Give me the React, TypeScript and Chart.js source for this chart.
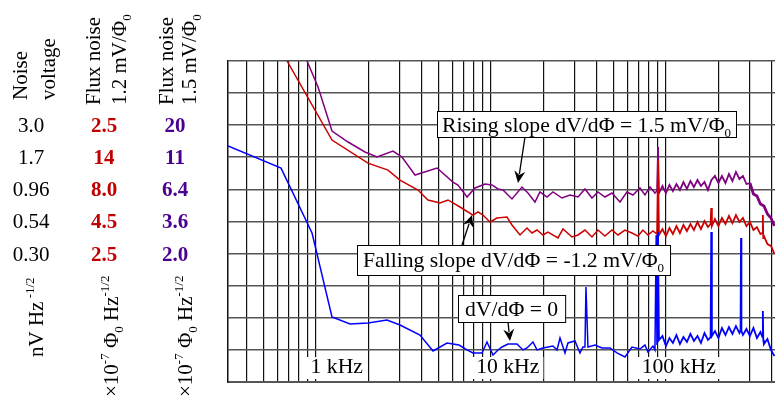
import React, { useEffect, useRef } from 'react';
import { Chart, registerables } from 'chart.js';
Chart.register(...registerables);

// ---------- DATA (frequency in Hz, noise in nV/Hz^1/2) ----------
const blueFreq = [
  314, 631, 949, 1234, 1564, 1982, 2545, 3020, 3929, 4664,
  5605, 6565, 7293, 7891, 8884, 9488, 10270, 10970, 11560, 12510,
  14080, 15230, 16060, 17380, 18320, 19820, 22610, 23840, 24800, 26480,
  27540, 30200, 32250, 33550, 34450, 34900, 35830, 39290, 43080, 47860,
  52480, 58310, 63930, 71030, 75860, 78910, 84280, 86520, 87960, 88830,
  90010, 91200, 95500, 100000, 104700, 109600, 114800, 120200, 125900, 131800,
  138000, 144500, 151400, 158500, 166000, 173800, 180000, 181500, 183000, 190500,
  199500, 208900, 218800, 229100, 239900, 251200, 263000, 267000, 268500, 270000,
  275400, 288400, 302000, 316200, 331100, 346700, 356000, 358000, 360000, 363100,
  380200, 398100, 416900,
];
const blueNoise = [
  2.07, 1.39, 0.434, 0.0962, 0.0849, 0.0864, 0.0912, 0.0834, 0.0697, 0.0523,
  0.0604, 0.0582, 0.0533, 0.0505, 0.0505, 0.0615, 0.0487, 0.0533, 0.0562, 0.0593,
  0.0593, 0.0533, 0.0552, 0.0615, 0.0533, 0.0552, 0.0572, 0.0533, 0.066, 0.0505,
  0.0604, 0.0626, 0.0505, 0.0562, 0.0562, 0.165, 0.0562, 0.0582, 0.0552, 0.0552,
  0.0505, 0.047, 0.0562, 0.0542, 0.0582, 0.0514, 0.0572, 0.0533, 0.419, 0.0582,
  0.442, 0.0637, 0.0685, 0.0572, 0.066, 0.0604, 0.0697, 0.0593, 0.0672, 0.0615,
  0.071, 0.0626, 0.0685, 0.0604, 0.0722, 0.0637, 0.0672, 0.442, 0.0685, 0.0749,
  0.066, 0.079, 0.0697, 0.0804, 0.071, 0.0819, 0.0722, 0.0763, 0.397, 0.0749,
  0.0697, 0.0776, 0.0685, 0.079, 0.066, 0.0735, 0.0672, 0.107, 0.0637, 0.0593,
  0.0649, 0.0533, 0.0478,
];

const redFreq = [
  683, 1234, 1982, 2579, 3020, 3827, 4365, 5112, 5679, 6651,
  7891, 8428, 9001, 9869, 10820, 12340, 13180, 14650, 16060, 17150,
  18320, 19820, 21170, 24150, 25790, 29030, 31420, 34450, 37770, 40870,
  44820, 49140, 53180, 58310, 63930, 69180, 73890, 78910, 84280, 88830,
  90010, 91200, 95500, 100000, 104700, 109600, 114800, 120200, 125900, 131800,
  138000, 144500, 151400, 158500, 166000, 173800, 180000, 181500, 183000, 190500,
  199500, 208900, 218800, 229100, 239900, 251200, 263000, 275400, 288400, 302000,
  316200, 331100, 346700, 356000, 358000, 360000, 363100, 380200, 398100, 416900,
];
const redNoise = [
  9.49, 2.3, 1.52, 1.34, 1.12, 0.939, 0.785, 0.743, 0.785, 0.692,
  0.599, 0.633, 0.599, 0.529, 0.568, 0.578, 0.501, 0.419, 0.475, 0.434,
  0.458, 0.419, 0.442, 0.397, 0.466, 0.404, 0.419, 0.458, 0.404, 0.458,
  0.411, 0.458, 0.419, 0.458, 0.434, 0.411, 0.458, 0.419, 0.45, 0.426,
  1.61, 0.419, 0.466, 0.411, 0.475, 0.426, 0.492, 0.434, 0.501, 0.45,
  0.51, 0.458, 0.529, 0.466, 0.538, 0.483, 0.51, 0.68, 0.492, 0.558,
  0.492, 0.568, 0.51, 0.589, 0.519, 0.599, 0.529, 0.568, 0.492, 0.529,
  0.458, 0.483, 0.426, 0.434, 0.599, 0.397, 0.411, 0.356, 0.344, 0.298,
];

const purpleFreq = [
  888, 1027, 1234, 1524, 1905, 2231, 2754, 3100, 3679, 4914,
  6065, 6478, 7293, 8102, 9241, 10130, 10970, 11710, 13180, 15040,
  16270, 17840, 19050, 20890, 22610, 25450, 28280, 31420, 34450, 37770,
  40870, 44820, 49140, 54590, 59860, 64780, 71030, 75860, 81020, 86520,
  88830, 90010, 91200, 95500, 100000, 104700, 109600, 114800, 120200, 125900,
  131800, 138000, 144500, 151400, 158500, 166000, 173800, 182000, 190500, 199500,
  208900, 218800, 229100, 239900, 251200, 263000, 275400, 288400, 302000, 316200,
  331100, 346700, 363100, 380200, 398100, 416900,
];
const purpleNoise = [
  9.49, 5.95, 2.7, 2.22, 1.855, 1.696, 1.889, 1.696, 1.228, 1.393,
  1.083, 1.027, 0.828, 0.973, 1.045, 1.027, 0.956, 0.939, 0.799, 0.99,
  0.889, 0.757, 0.906, 0.828, 0.906, 0.813, 0.858, 0.828, 0.956, 0.813,
  0.906, 0.828, 0.889, 0.757, 0.906, 0.858, 0.973, 0.858, 0.99, 0.889,
  0.922, 2.03, 0.889, 1.008, 0.889, 1.027, 0.922, 1.045, 0.939, 1.083,
  0.956, 1.103, 0.99, 1.123, 1.008, 1.083, 0.939, 1.123, 1.207, 1.064,
  1.207, 1.064, 1.251, 1.103, 1.297, 1.143, 1.207, 1.045, 1.064, 0.874,
  0.843, 0.73, 0.705, 0.61, 0.568, 0.492,
];

// grid / tick values
const xGridValues = [
  400, 500, 600, 700, 800, 900, 1000, 2000, 3000, 4000, 5000, 6000, 7000, 8000, 9000,
  10000, 20000, 30000, 40000, 50000, 60000, 70000, 80000, 90000, 100000, 200000, 300000, 400000,
];
const yGridValues = [0.03, 0.0533, 0.0949, 0.169, 0.3, 0.534, 0.949, 1.69, 3.0, 5.34, 9.49];
const freqLabelValues = [1000, 10000, 100000];
const freqLabelTexts = ['1 kHz', '10 kHz', '100 kHz'];

// table at left (rows aligned to noise-voltage gridlines)
const noiseVoltageLabels = ['3.0', '1.7', '0.96', '0.54', '0.30'];
const fluxNoise12Labels = ['2.5', '14', '8.0', '4.5', '2.5'];
const fluxNoise15Labels = ['20', '11', '6.4', '3.6', '2.0'];

// ---------- STYLE ----------
const FONT = '"Liberation Serif", "Times New Roman", Times, serif';
const FS = 21;
const FA = 21.7;
const BLUE = '#0000ff';
const RED = '#cc0000';
const PURPLE = '#800080';
const RED_TXT = '#c00000';
const PURPLE_TXT = '#4a0090';

type Run = { t: string; s?: 'sup' | 'sub' };

function runFont(size: number, bold: boolean, r: Run) {
  const s = r.s ? Math.round(size * 0.62) : size;
  return `${bold ? 'bold ' : ''}${s}px ${FONT}`;
}
function runsWidth(ctx: CanvasRenderingContext2D, runs: Run[], size: number, bold = false) {
  let w = 0;
  for (const r of runs) {
    ctx.font = runFont(size, bold, r);
    w += ctx.measureText(r.t).width;
  }
  return w;
}
function drawRuns(ctx: CanvasRenderingContext2D, runs: Run[], x: number, y: number, size: number, bold = false) {
  let cx = x;
  for (const r of runs) {
    ctx.font = runFont(size, bold, r);
    const dy = r.s === 'sup' ? -size * 0.42 : r.s === 'sub' ? size * 0.24 : 0;
    ctx.fillText(r.t, cx, y + dy);
    cx += ctx.measureText(r.t).width;
  }
}

function arrow(ctx: CanvasRenderingContext2D, x1: number, y1: number, x2: number, y2: number) {
  const ang = Math.atan2(y2 - y1, x2 - x1);
  const hl = 12, hw = 5.5;
  const bx = x2 - hl * Math.cos(ang), by = y2 - hl * Math.sin(ang);
  ctx.beginPath();
  ctx.moveTo(x1, y1);
  ctx.lineTo(bx + 3 * Math.cos(ang), by + 3 * Math.sin(ang));
  ctx.lineWidth = 1.3;
  ctx.strokeStyle = '#000';
  ctx.stroke();
  ctx.beginPath();
  ctx.moveTo(x2, y2);
  ctx.lineTo(bx + hw * Math.sin(ang), by - hw * Math.cos(ang));
  ctx.lineTo(bx + 4 * Math.cos(ang), by + 4 * Math.sin(ang));
  ctx.lineTo(bx - hw * Math.sin(ang), by + hw * Math.cos(ang));
  ctx.closePath();
  ctx.fillStyle = '#000';
  ctx.fill();
}

const annotations = [
  { runs: [{ t: 'Rising slope dV/dΦ = 1.5 mV/Φ' }, { t: '0', s: 'sub' }] as Run[], left: 437, top: 111, h: 26, base: 21, pad: 5, arrow: [525, 137, 518, 183] },
  { runs: [{ t: 'Falling slope dV/dΦ = -1.2 mV/Φ' }, { t: '0', s: 'sub' }] as Run[], left: 357, top: 245, h: 30, base: 22, pad: 6, arrow: [462, 245, 472, 215] },
  { runs: [{ t: 'dV/dΦ = 0' }] as Run[], left: 458, top: 295, h: 27, base: 21, pad: 7, arrow: [508, 322, 510, 341] },
];

const headers: { runs: Run[]; x: number; y: number }[] = [
  { runs: [{ t: 'Noise' }], x: 27, y: 100 },
  { runs: [{ t: 'voltage' }], x: 55, y: 100 },
  { runs: [{ t: 'Flux noise' }], x: 100, y: 105 },
  { runs: [{ t: '1.2 mV/Φ' }, { t: '0', s: 'sub' }], x: 126, y: 105 },
  { runs: [{ t: 'Flux noise' }], x: 173, y: 105 },
  { runs: [{ t: '1.5 mV/Φ' }, { t: '0', s: 'sub' }], x: 196, y: 105 },
  { runs: [{ t: 'nV Hz' }, { t: ' -1/2', s: 'sup' }], x: 43, y: 357 },
  { runs: [{ t: '×10' }, { t: '-7', s: 'sup' }, { t: ' Φ' }, { t: '0', s: 'sub' }, { t: ' Hz' }, { t: '-1/2', s: 'sup' }], x: 118, y: 397 },
  { runs: [{ t: '×10' }, { t: '-7', s: 'sup' }, { t: ' Φ' }, { t: '0', s: 'sub' }, { t: ' Hz' }, { t: '-1/2', s: 'sup' }], x: 192, y: 397 },
];

const overlay = {
  id: 'overlay',
  beforeDatasetsDraw(chart: any) {
    const ctx: CanvasRenderingContext2D = chart.ctx;
    const xs = chart.scales.x;
    const bottom = chart.chartArea.bottom;
    ctx.save();
    ctx.textAlign = 'left';
    ctx.textBaseline = 'alphabetic';
    freqLabelValues.forEach((f, i) => {
      const label = freqLabelTexts[i];
      const num = label.split(' ')[0];
      ctx.font = `${FA}px ${FONT}`;
      const numW = ctx.measureText(num).width;
      const w = ctx.measureText(label).width;
      const px = xs.getPixelForValue(f);
      const left = px - numW / 2 - (num.length - 1) * 4;
      ctx.fillStyle = '#fff';
      ctx.fillRect(left - 4, bottom - 25, w + 8, 22);
      ctx.fillStyle = '#000';
      ctx.fillText(label, left, bottom - 9);
    });
    ctx.restore();
  },
  afterDatasetsDraw(chart: any) {
    const ctx: CanvasRenderingContext2D = chart.ctx;
    ctx.save();
    ctx.textAlign = 'left';
    ctx.textBaseline = 'alphabetic';
    for (const a of annotations) {
      const [x1, y1, x2, y2] = a.arrow;
      arrow(ctx, x1, y1, x2, y2);
      const w = runsWidth(ctx, a.runs, FA) + 2 * a.pad;
      ctx.fillStyle = '#fff';
      ctx.fillRect(a.left, a.top, w, a.h);
      ctx.strokeStyle = '#000';
      ctx.lineWidth = 1;
      ctx.strokeRect(a.left + 0.5, a.top + 0.5, w, a.h);
      ctx.fillStyle = '#000';
      drawRuns(ctx, a.runs, a.left + a.pad, a.top + a.base, FA);
    }
    ctx.restore();
  },
  afterDraw(chart: any) {
    const ctx: CanvasRenderingContext2D = chart.ctx;
    const ys = chart.scales.y;
    ctx.save();
    ctx.textBaseline = 'alphabetic';
    ctx.fillStyle = '#000';
    ctx.textAlign = 'left';
    for (const h of headers) {
      ctx.save();
      ctx.translate(h.x, h.y);
      ctx.rotate(-Math.PI / 2);
      drawRuns(ctx, h.runs, 0, 0, FS);
      ctx.restore();
    }
    ctx.textAlign = 'center';
    noiseVoltageLabels.forEach((lab, i) => {
      const y = ys.getPixelForValue(parseFloat(lab)) + 7;
      ctx.font = `${FS}px ${FONT}`;
      ctx.fillStyle = '#000';
      ctx.fillText(lab, 31, y);
      ctx.font = `bold ${FS}px ${FONT}`;
      ctx.fillStyle = RED_TXT;
      ctx.fillText(fluxNoise12Labels[i], 104, y);
      ctx.fillStyle = PURPLE_TXT;
      ctx.fillText(fluxNoise15Labels[i], 175, y);
    });
    ctx.restore();
  },
};

function series(fr: number[], vals: number[]) {
  const n = Math.min(fr.length, vals.length);
  const out: { x: number; y: number }[] = [];
  for (let i = 0; i < n; i++) out.push({ x: fr[i], y: vals[i] });
  return out;
}

export default function App() {
  const ref = useRef<HTMLCanvasElement>(null);
  useEffect(() => {
    const canvas = ref.current;
    if (!canvas) return;
    const chart = new Chart(canvas, {
      type: 'line',
      data: {
        datasets: [
          {
            label: 'dV/dΦ = 0', data: series(blueFreq, blueNoise), borderColor: BLUE, borderWidth: 1.5, pointRadius: 0, tension: 0,
            segment: { borderWidth: (c: any) => (c.p0.parsed.x > 90000 ? 1.8 : 1.5) },
          },
          {
            label: 'falling', data: series(redFreq, redNoise), borderColor: RED, borderWidth: 1.5, pointRadius: 0, tension: 0,
            segment: { borderWidth: (c: any) => (c.p0.parsed.x > 90000 ? 1.8 : 1.5) },
          },
          {
            label: 'rising', data: series(purpleFreq, purpleNoise), borderColor: PURPLE, borderWidth: 1.5, pointRadius: 0, tension: 0,
            segment: { borderWidth: (c: any) => (c.p0.parsed.x > 300000 ? 2.8 : c.p0.parsed.x > 90000 ? 1.8 : 1.5) },
          },
        ],
      } as any,
      plugins: [overlay],
      options: {
        responsive: false,
        devicePixelRatio: 1,
        animation: false,
        parsing: false,
        normalized: true,
        layout: { padding: { left: 228, top: 61, right: 0, bottom: 16 } },
        plugins: { legend: { display: false }, tooltip: { enabled: false } },
        scales: {
          x: {
            type: 'logarithmic',
            min: 314,
            max: 420000,
            afterBuildTicks: (axis: any) => { axis.ticks = xGridValues.map((v) => ({ value: v })); },
            ticks: { display: false },
            grid: { color: '#111', lineWidth: 1.2, drawTicks: false },
            border: { display: true, color: '#555', width: 2 },
          },
          y: {
            type: 'logarithmic',
            min: 0.03,
            max: 9.49,
            afterBuildTicks: (axis: any) => { axis.ticks = yGridValues.map((v) => ({ value: v })); },
            ticks: { display: false },
            grid: { color: '#555', lineWidth: 1.6, drawTicks: false },
            border: { display: true, color: '#111', width: 1.5 },
          },
        },
      } as any,
    });
    return () => chart.destroy();
  }, []);
  return (
    <div style={{ position: 'fixed', left: 0, top: 0, width: 775, height: 398, background: '#fff' }}>
      <canvas ref={ref} width={775} height={398} style={{ display: 'block', width: 775, height: 398 }} />
    </div>
  );
}
